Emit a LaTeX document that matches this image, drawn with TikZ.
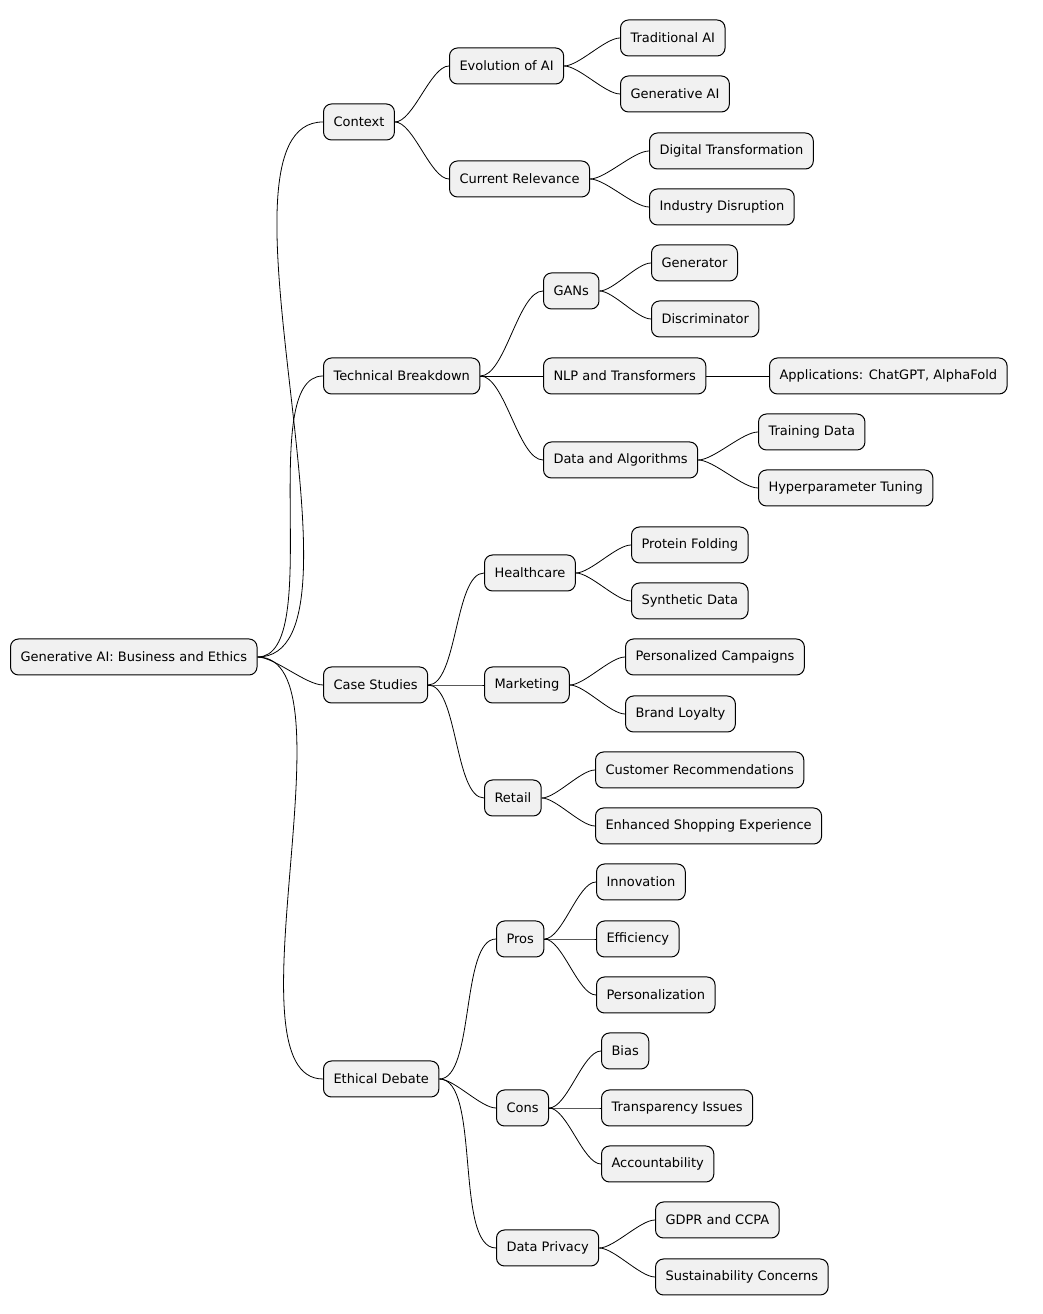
\documentclass[tikz,border=0pt]{standalone}
\usepackage{fontspec}
\setmainfont{DejaVu Sans}
\definecolor{boxfill}{HTML}{F1F1F1}
\begin{document}
\begin{tikzpicture}[x=1pt, y=1pt,
  mapbox/.style={draw, fill=boxfill, rounded corners=8pt, line width=1pt,
    minimum height=36pt, inner xsep=10pt, anchor=west, font=\fontsize{13}{15}\selectfont},
  mapline/.style={line width=0.8pt, out=0, in=180, looseness=0.6}]

\useasboundingbox (0,0) rectangle (1042,1314);

\newcommand{\yy}[1]{1314-#1}

% nodes: name / left x / centre y (from top) / text
\foreach \n/\x/\y/\t in {
  root/10/657/{Generative AI: Business and Ethics},
  ctx/323/122/{Context},
  evo/449/66/{Evolution of AI},
  trad/620/38/{Traditional AI},
  gen/620/94/{Generative AI},
  cur/449/179/{Current Relevance},
  dig/649/151/{Digital Transformation},
  ind/649/207/{Industry Disruption},
  tech/323/376/{Technical Breakdown},
  gans/543/291/{GANs},
  gtor/651/263/{Generator},
  disc/651/319/{Discriminator},
  nlp/543/376/{NLP and Transformers},
  app/769/376/{Applications: ChatGPT, AlphaFold},
  dat/543/460/{Data and Algorithms},
  train/758/432/{Training Data},
  hyper/758/488/{Hyperparameter Tuning},
  cases/323/685/{Case Studies},
  health/484/573/{Healthcare},
  prot/631/545/{Protein Folding},
  synth/631/601/{Synthetic Data},
  mark/484/685/{Marketing},
  pers/625/657/{Personalized Campaigns},
  brand/625/714/{Brand Loyalty},
  ret/484/798/{Retail},
  cust/595/770/{Customer Recommendations},
  shop/595/826/{Enhanced Shopping Experience},
  eth/323/1079/{Ethical Debate},
  pros/496/939/{Pros},
  inno/596/882/{Innovation},
  eff/596/939/{Efficiency},
  perso/596/995/{Personalization},
  cons/496/1108/{Cons},
  bias/601/1051/{Bias},
  trans/601/1108/{Transparency Issues},
  acc/601/1164/{Accountability},
  priv/496/1248/{Data Privacy},
  gdpr/655/1220/{GDPR and CCPA},
  sust/655/1277/{Sustainability Concerns}
} {
  \node[mapbox] (\n) at (\x, {\yy{\y}}) {\t};
}

% connectors
\foreach \p/\c in {root/ctx, root/tech, root/cases, root/eth,
  ctx/evo, ctx/cur, evo/trad, evo/gen, cur/dig, cur/ind,
  tech/gans, tech/nlp, tech/dat, gans/gtor, gans/disc, nlp/app, dat/train, dat/hyper,
  cases/health, cases/mark, cases/ret, health/prot, health/synth,
  mark/pers, mark/brand, ret/cust, ret/shop,
  eth/pros, eth/cons, eth/priv, pros/inno, pros/eff, pros/perso,
  cons/bias, cons/trans, cons/acc, priv/gdpr, priv/sust} {
  \draw[mapline] (\p.east) to (\c.west);
}

\end{tikzpicture}
\end{document}
